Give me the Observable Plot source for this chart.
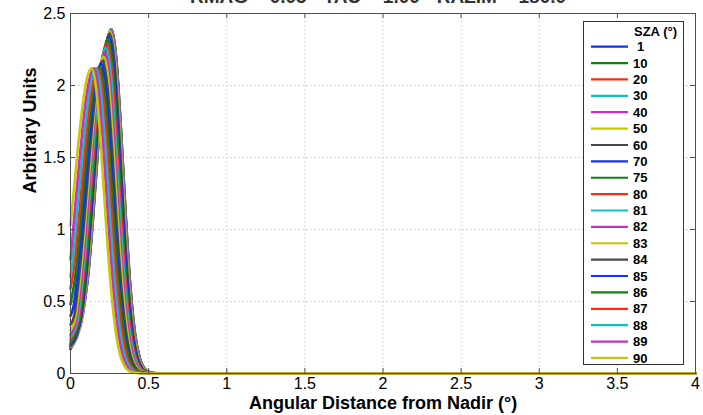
<!DOCTYPE html>
<html><head><meta charset="utf-8">
<script src="https://cdn.jsdelivr.net/npm/d3@7"></script>
<script src="https://cdn.jsdelivr.net/npm/@observablehq/plot@0.6"></script>
<style>body{margin:0;background:#fff;}</style>
</head><body><div id="chart"></div>
<script>
const titleText = "RMAG = 0.05 - TAU = 1.00 - RAZIM = 180.0";
const xLabel = "Angular Distance from Nadir (°)";
const yLabel = "Arbitrary Units";
const legendTitle = "SZA (°)";
const szaLabels = [1,10,20,30,40,50,60,70,75,80,81,82,83,84,85,86,87,88,89,90];
const xTicks = [0,0.5,1,1.5,2,2.5,3,3.5,4];
const yTicks = [0,0.5,1,1.5,2,2.5];
const palette = ["#1030ff","#108010","#ff2a10","#10c0c0","#c830c8","#c8c800","#484848"];

const sza1  = [[0,.17],[.043,.28],[.083,.46],[.113,.68],[.143,1.06],[.173,1.51],[.203,1.95],[.233,2.27],[.263,2.39],[.293,2.19],[.323,1.70],[.353,1.11],[.383,.61],[.413,.28],[.443,.109],[.473,.036],[.513,.006],[.58,0],[4,0]];
const sza10 = [[0,.17],[.042,.28],[.082,.46],[.112,.68],[.142,1.06],[.172,1.51],[.202,1.95],[.232,2.27],[.262,2.39],[.292,2.19],[.322,1.70],[.352,1.11],[.382,.61],[.412,.28],[.442,.109],[.472,.036],[.512,.006],[.58,0],[4,0]];
const sza20 = [[0,.175],[.041,.27],[.081,.44],[.111,.67],[.141,1.06],[.171,1.51],[.201,1.95],[.231,2.27],[.261,2.39],[.291,2.19],[.321,1.70],[.351,1.11],[.381,.61],[.411,.28],[.441,.109],[.471,.036],[.511,.006],[.58,0],[4,0]];
const sza30 = [[0,.18],[.04,.26],[.08,.42],[.11,.67],[.14,1.06],[.17,1.51],[.20,1.95],[.23,2.27],[.26,2.39],[.29,2.19],[.32,1.70],[.35,1.11],[.38,.61],[.41,.28],[.44,.109],[.47,.036],[.51,.006],[.58,0],[4,0]];
const sza40 = [[0,.18],[.04,.25],[.078,.40],[.108,.67],[.138,1.06],[.168,1.51],[.198,1.95],[.228,2.27],[.258,2.385],[.288,2.19],[.318,1.69],[.348,1.10],[.378,.61],[.408,.28],[.438,.109],[.468,.036],[.508,.006],[.575,0],[4,0]];
const sza50 = [[0,.185],[.038,.25],[.075,.40],[.105,.67],[.135,1.05],[.165,1.50],[.195,1.94],[.225,2.26],[.255,2.375],[.285,2.18],[.315,1.69],[.345,1.10],[.375,.60],[.405,.28],[.435,.109],[.465,.036],[.505,.006],[.57,0],[4,0]];
const sza60 = [[0,.19],[.036,.25],[.071,.40],[.101,.67],[.131,1.05],[.161,1.49],[.191,1.93],[.221,2.24],[.251,2.36],[.281,2.17],[.311,1.68],[.341,1.09],[.371,.60],[.401,.28],[.431,.108],[.461,.035],[.501,.006],[.565,0],[4,0]];
const sza70 = [[0,.20],[.033,.26],[.066,.38],[.096,.66],[.126,1.04],[.156,1.48],[.186,1.91],[.216,2.22],[.246,2.34],[.276,2.15],[.306,1.66],[.336,1.08],[.366,.59],[.396,.27],[.426,.107],[.456,.035],[.496,.006],[.56,0],[4,0]];
const sza75 = [[0,.21],[.03,.27],[.06,.38],[.09,.66],[.12,1.03],[.15,1.47],[.18,1.90],[.21,2.21],[.24,2.32],[.27,2.13],[.30,1.65],[.33,1.07],[.36,.59],[.39,.27],[.42,.106],[.45,.035],[.49,.006],[.55,0],[4,0]];
const sza80 = [[0,.23],[.027,.29],[.053,.38],[.083,.66],[.113,1.03],[.143,1.46],[.173,1.88],[.203,2.18],[.233,2.29],[.263,2.11],[.293,1.66],[.323,1.11],[.353,.63],[.383,.31],[.413,.127],[.443,.045],[.483,.009],[.55,0],[4,0]];
const sza81 = [[0,.25],[.025,.30],[.047,.38],[.077,.66],[.107,1.02],[.137,1.45],[.167,1.85],[.197,2.15],[.227,2.26],[.257,2.09],[.287,1.64],[.317,1.10],[.347,.63],[.377,.30],[.407,.125],[.437,.044],[.477,.009],[.545,0],[4,0]];
const sza82 = [[0,.27],[.04,.39],[.07,.66],[.10,1.02],[.13,1.44],[.16,1.84],[.19,2.12],[.22,2.23],[.25,2.06],[.28,1.62],[.31,1.08],[.34,.62],[.37,.30],[.40,.124],[.43,.043],[.47,.008],[.54,0],[4,0]];
const sza83 = [[0,.30],[.033,.40],[.063,.67],[.093,1.03],[.123,1.43],[.153,1.82],[.183,2.10],[.213,2.20],[.243,2.03],[.273,1.60],[.303,1.07],[.333,.61],[.363,.30],[.393,.12],[.423,.043],[.463,.008],[.53,0],[4,0]];
const sza84 = [[0,.34],[.025,.41],[.055,.68],[.085,1.03],[.115,1.43],[.145,1.80],[.175,2.07],[.205,2.17],[.235,2.00],[.265,1.57],[.295,1.05],[.325,.60],[.355,.29],[.385,.12],[.415,.042],[.455,.008],[.52,0],[4,0]];
const sza85 = [[0,.40],[.02,.47],[.046,.70],[.076,1.05],[.106,1.43],[.136,1.80],[.166,2.06],[.196,2.15],[.226,1.98],[.256,1.56],[.286,1.04],[.316,.59],[.346,.29],[.376,.12],[.406,.042],[.446,.008],[.51,0],[4,0]];
const sza86 = [[0,.48],[.036,.72],[.066,1.07],[.096,1.44],[.126,1.79],[.156,2.04],[.186,2.13],[.216,1.98],[.246,1.58],[.276,1.09],[.306,.64],[.336,.33],[.366,.14],[.396,.054],[.436,.012],[.50,0],[4,0]];
const sza87 = [[0,.59],[.025,.76],[.055,1.10],[.085,1.46],[.115,1.80],[.145,2.03],[.175,2.12],[.205,1.97],[.235,1.57],[.265,1.08],[.295,.64],[.325,.33],[.355,.14],[.385,.054],[.425,.012],[.49,0],[4,0]];
const sza88 = [[0,.67],[.015,.80],[.043,1.13],[.073,1.49],[.103,1.81],[.133,2.04],[.163,2.12],[.193,1.97],[.223,1.57],[.253,1.08],[.283,.64],[.313,.33],[.343,.14],[.373,.054],[.413,.012],[.48,0],[4,0]];
const sza89 = [[0,.79],[.03,1.16],[.06,1.51],[.09,1.83],[.12,2.04],[.15,2.12],[.18,1.97],[.21,1.57],[.24,1.08],[.27,.64],[.30,.33],[.33,.14],[.36,.054],[.40,.012],[.47,0],[4,0]];
const sza90 = [[0,1.03],[.015,1.20],[.045,1.54],[.075,1.84],[.105,2.05],[.135,2.12],[.165,1.97],[.195,1.57],[.225,1.08],[.255,.64],[.285,.33],[.315,.14],[.345,.054],[.385,.012],[.455,0],[4,0]];

const curves = [sza1,sza10,sza20,sza30,sza40,sza50,sza60,sza70,sza75,sza80,sza81,sza82,sza83,sza84,sza85,sza86,sza87,sza88,sza89,sza90];
const rows = curves.flatMap((pts, i) => pts.map(([x, y]) => ({x, y, sza: szaLabels[i], color: palette[i % palette.length]})));

const W = 703, H = 415, mL = 70, mR = 8, mT = 13, mB = 42;
const pw = W - mL - mR, ph = H - mT - mB;
const axisColor = "#505050";
const fmt = d => String(d);
const FONT = "'Liberation Sans', Arial, Helvetica, sans-serif";

const chart = Plot.plot({
  width: W, height: H,
  marginLeft: mL, marginRight: mR, marginTop: mT, marginBottom: mB,
  style: {fontFamily: FONT, fontSize: "16px", background: "#fff", color: "#000"},
  x: {domain: [0, 4]},
  y: {domain: [0, 2.5]},
  marks: [
    Plot.gridX(xTicks.slice(1, -1), {stroke: "#c8c8c8", strokeOpacity: 1, strokeDasharray: "1.5,2.5"}),
    Plot.gridY(yTicks.slice(1, -1), {stroke: "#c8c8c8", strokeOpacity: 1, strokeDasharray: "1.5,2.5"}),
    Plot.line(rows, {x: "x", y: "y", z: "sza", stroke: "color", strokeWidth: 2.6, curve: "monotone-x"}),
    Plot.frame({stroke: axisColor}),
    Plot.tickX(xTicks, {x: d => d, insetTop: ph - 5, stroke: axisColor}),
    Plot.tickX(xTicks, {x: d => d, insetBottom: ph - 5, stroke: axisColor}),
    Plot.tickY(yTicks, {y: d => d, insetRight: pw - 5, stroke: axisColor}),
    Plot.tickY(yTicks, {y: d => d, insetLeft: pw - 5, stroke: axisColor}),
    Plot.axisX(xTicks, {tickSize: 0, tickPadding: 4, tickFormat: fmt, label: null}),
    Plot.axisY(yTicks, {tickSize: 0, tickPadding: 5, tickFormat: fmt, label: null}),
    Plot.text([xLabel], {frameAnchor: "bottom", dy: 35, fontWeight: "bold", fontSize: 18}),
    Plot.text([yLabel], {frameAnchor: "left", dx: -40, rotate: -90, fontWeight: "bold", fontSize: 18}),
    Plot.text([titleText], {frameAnchor: "top", dy: -11, lineAnchor: "bottom", fontWeight: "bold", fontSize: 19, dx: -5, fill: "#333"})
  ]
});

// legend
const svg = d3.select(chart);
const lg = svg.append("g").attr("font-family", FONT).attr("font-weight", "bold").attr("font-size", 13).attr("fill", "#000");
lg.append("rect").attr("x", 583.5).attr("y", 21.5).attr("width", 100).attr("height", 343)
  .attr("fill", "#fff").attr("stroke", "#333").attr("stroke-width", 1);
lg.append("text").attr("x", 677).attr("y", 35.5).attr("text-anchor", "end").text(legendTitle);
szaLabels.forEach((s, i) => {
  const cy = 46.7 + i * 16.38;
  lg.append("line").attr("x1", 591).attr("x2", 628).attr("y1", cy).attr("y2", cy)
    .attr("stroke", palette[i % palette.length]).attr("stroke-width", 2.2);
  lg.append("text").attr("x", s < 10 ? 637 : 633).attr("y", cy + 4.6).attr("text-anchor", "start").text(String(s));
});

document.getElementById("chart").appendChild(chart);
</script>
</body></html>
